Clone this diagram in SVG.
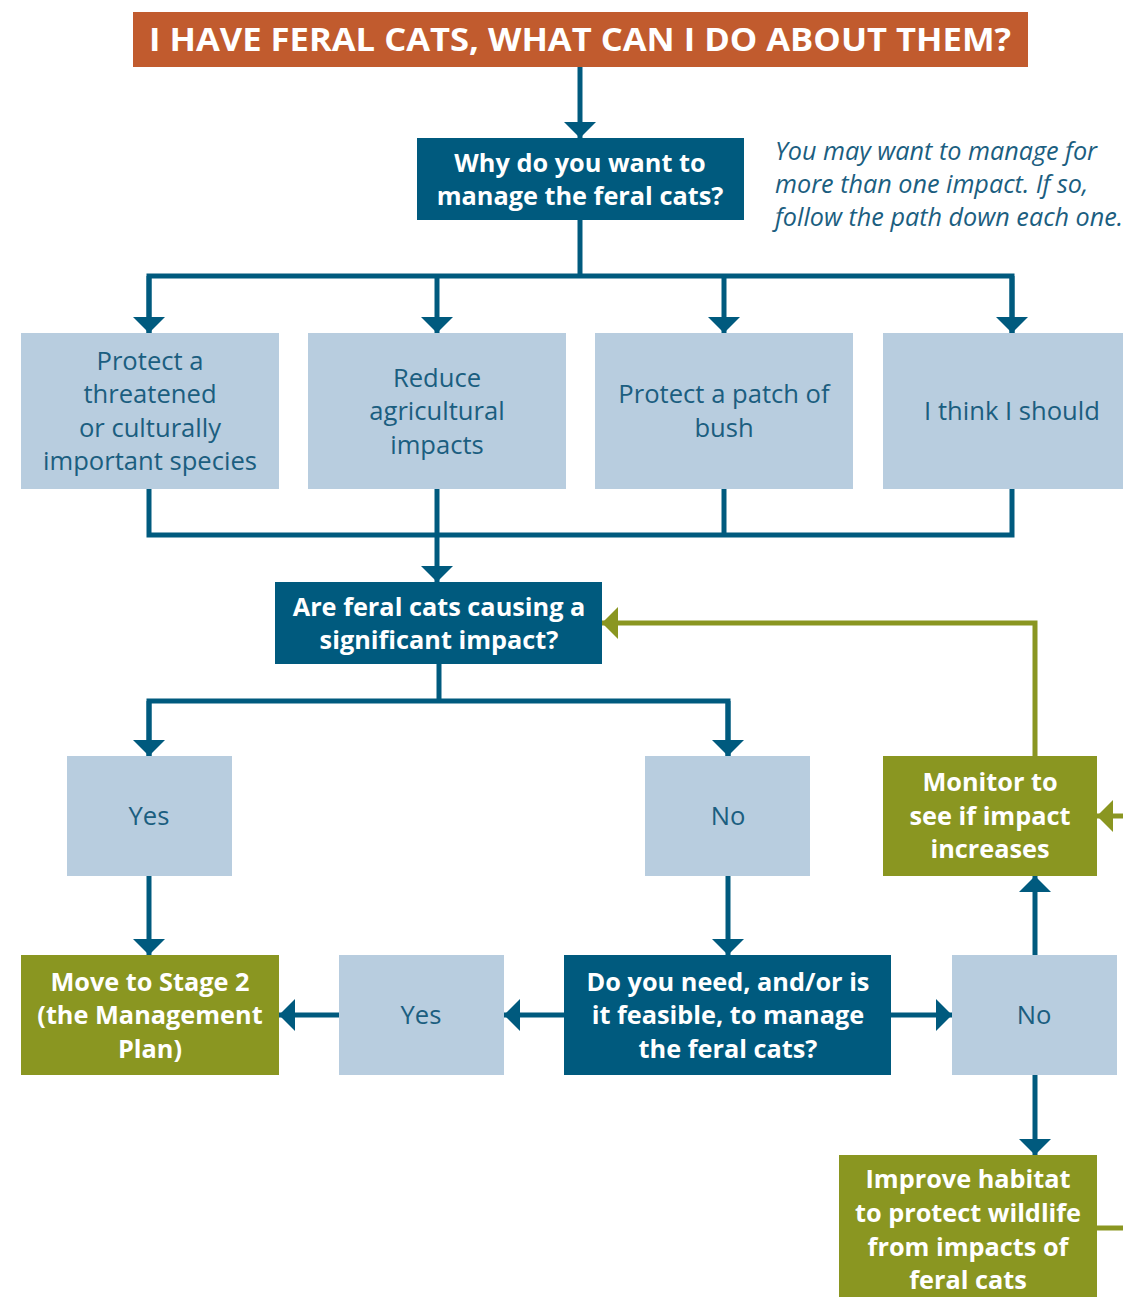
<svg xmlns="http://www.w3.org/2000/svg" width="1123" height="1297" viewBox="0 0 1123 1297">
<style>
.dark{fill:#005A7E}
.light{fill:#B8CDDF}
.green{fill:#8A9621}
.title{fill:#C15B2E}
text{font-family:"Open Sans","Liberation Sans",sans-serif;font-size:25.6px;text-anchor:middle}
.w{fill:#fff;font-weight:700;font-size:25.3px}
.b{fill:#1B5E80}
.note{fill:#1B5E80;font-style:italic;text-anchor:start;font-size:25.2px}
.ln{fill:none;stroke:#005A7E;stroke-width:5}
.gl{fill:none;stroke:#8A9621;stroke-width:5}
</style>
<defs>
<marker id="ab" markerUnits="userSpaceOnUse" markerWidth="16" markerHeight="32" viewBox="0 0 16 32" refX="16" refY="16" orient="auto"><path d="M0 0 L16 16 L0 32 Z" fill="#005A7E"/></marker>
<marker id="ag" markerUnits="userSpaceOnUse" markerWidth="16" markerHeight="32" viewBox="0 0 16 32" refX="16" refY="16" orient="auto"><path d="M0 0 L16 16 L0 32 Z" fill="#8A9621"/></marker>
</defs>
<g id="connectors">
<path class="ln" d="M580 67 V138" marker-end="url(#ab)"/>
<path class="ln" d="M580 220 V276"/>
<path class="ln" d="M149 333 V276 H1012 V333"/>
<path class="ln" d="M149 276 V333" marker-end="url(#ab)"/>
<path class="ln" d="M437 276 V333" marker-end="url(#ab)"/>
<path class="ln" d="M724 276 V333" marker-end="url(#ab)"/>
<path class="ln" d="M1012 276 V333" marker-end="url(#ab)"/>
<path class="ln" d="M149 489 V535 H1012 V489"/>
<path class="ln" d="M724 489 V535"/>
<path class="ln" d="M437 489 V582" marker-end="url(#ab)"/>
<path class="ln" d="M439 664 V701"/>
<path class="ln" d="M149 756 V701 H728 V756"/>
<path class="ln" d="M149 701 V756" marker-end="url(#ab)"/>
<path class="ln" d="M728 701 V756" marker-end="url(#ab)"/>
<path class="ln" d="M149 876 V955" marker-end="url(#ab)"/>
<path class="ln" d="M728 876 V955" marker-end="url(#ab)"/>
<path class="ln" d="M564 1015 H504" marker-end="url(#ab)"/>
<path class="ln" d="M339 1015 H279" marker-end="url(#ab)"/>
<path class="ln" d="M891 1015 H952" marker-end="url(#ab)"/>
<path class="ln" d="M1035 955 V876" marker-end="url(#ab)"/>
<path class="ln" d="M1035 1075 V1155" marker-end="url(#ab)"/>
<path class="gl" d="M1035 756 V623 H602" marker-end="url(#ag)"/>
<path class="gl" d="M1123 816 H1097" marker-end="url(#ag)"/>
<path class="gl" d="M1097 1228 H1123"/>
</g>
<g id="title"><rect class="title" x="133" y="12" width="895" height="55"/><text x="580" y="51" style="fill:#fff;font-weight:700;font-size:33px" textLength="862" lengthAdjust="spacingAndGlyphs">I HAVE FERAL CATS, WHAT CAN I DO ABOUT THEM?</text></g>
<g id="why"><rect class="dark" x="417" y="138" width="327" height="82"/><text class="w" x="580" y="172">Why do you want to</text><text class="w" x="580" y="205">manage the feral cats?</text></g>
<g id="note"><text class="note" x="775" y="160">You may want to manage for</text><text class="note" x="775" y="193">more than one impact. If so,</text><text class="note" x="775" y="226">follow the path down each one.</text></g>
<g id="protect-species"><rect class="light" x="21" y="333" width="258" height="156"/><text class="b" x="150" y="370">Protect a</text><text class="b" x="150" y="403">threatened</text><text class="b" x="150" y="437">or culturally</text><text class="b" x="150" y="470">important species</text></g>
<g id="reduce-ag"><rect class="light" x="308" y="333" width="258" height="156"/><text class="b" x="437" y="387">Reduce</text><text class="b" x="437" y="420">agricultural</text><text class="b" x="437" y="454">impacts</text></g>
<g id="protect-bush"><rect class="light" x="595" y="333" width="258" height="156"/><text class="b" x="724" y="403">Protect a patch of</text><text class="b" x="724" y="437">bush</text></g>
<g id="think"><rect class="light" x="883" y="333" width="240" height="156"/><text class="b" x="1012" y="420">I think I should</text></g>
<g id="significant"><rect class="dark" x="275" y="582" width="327" height="82"/><text class="w" x="439" y="616">Are feral cats causing a</text><text class="w" x="439" y="649">significant impact?</text></g>
<g id="yes1"><rect class="light" x="67" y="756" width="165" height="120"/><text class="b" x="149" y="825">Yes</text></g>
<g id="no1"><rect class="light" x="645" y="756" width="165" height="120"/><text class="b" x="728" y="825">No</text></g>
<g id="monitor"><rect class="green" x="883" y="756" width="214" height="120"/><text class="w" x="990" y="791">Monitor to</text><text class="w" x="990" y="825">see if impact</text><text class="w" x="990" y="858">increases</text></g>
<g id="stage2"><rect class="green" x="21" y="955" width="258" height="120"/><text class="w" x="150" y="991">Move to Stage 2</text><text class="w" x="150" y="1024">(the Management</text><text class="w" x="150" y="1058">Plan)</text></g>
<g id="yes2"><rect class="light" x="339" y="955" width="165" height="120"/><text class="b" x="421" y="1024">Yes</text></g>
<g id="feasible"><rect class="dark" x="564" y="955" width="327" height="120"/><text class="w" x="728" y="991">Do you need, and/or is</text><text class="w" x="728" y="1024">it feasible, to manage</text><text class="w" x="728" y="1058">the feral cats?</text></g>
<g id="no2"><rect class="light" x="952" y="955" width="165" height="120"/><text class="b" x="1034" y="1024">No</text></g>
<g id="improve"><rect class="green" x="839" y="1155" width="258" height="142"/><text class="w" x="968" y="1188">Improve habitat</text><text class="w" x="968" y="1222">to protect wildlife</text><text class="w" x="968" y="1256">from impacts of</text><text class="w" x="968" y="1289">feral cats</text></g>
</svg>
